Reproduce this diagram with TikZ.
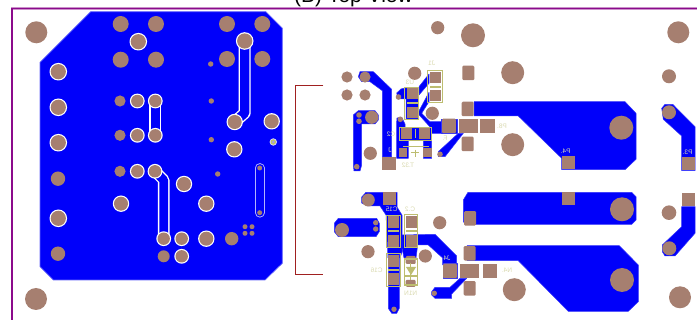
\documentclass[tikz,border=0pt]{standalone}
\usepackage{fontspec}
\setmainfont{Liberation Sans}
\usepackage{graphicx}
\definecolor{pcbblue}{HTML}{0000FA}
\definecolor{padbrown}{HTML}{A67F70}
\definecolor{silk}{HTML}{BDBD70}
\definecolor{silktext}{HTML}{DADAB0}
\definecolor{framepurple}{HTML}{8B0A8B}
\definecolor{bracketred}{HTML}{A02020}
\tikzset{
  copper/.style={fill=pcbblue,draw=pcbblue!80!white,line width=.5pt,line join=round},
  padfill/.style={fill=padbrown},
  silkbox/.style={draw=silk,line width=.8pt},
  silkbar/.style={draw=silk,line width=1.5pt},
  silklabel/.style={text=silktext,font=\fontsize{6.5}{6.5}\selectfont,inner sep=0pt}
}
\newcommand\cpad[3]{\fill[padfill] (#1,#2) circle (#3pt);}
\newcommand\rpad[3]{\fill[white] (#1,#2) circle [radius={#3+1.2}];\fill[padfill] (#1,#2) circle (#3pt);}
\newcommand\spad[4]{\fill[padfill,rounded corners=1.2pt] ({#1-#3/2},{#2-#4/2}) rectangle ({#1+#3/2},{#2+#4/2});}
\newcommand\qpad[4]{\fill[padfill] ({#1-#3/2},{#2-#4/2}) rectangle ({#1+#3/2},{#2+#4/2});}
\newcommand\mirrortext[3]{\node[silklabel] at (#1,#2) {\reflectbox{#3}};}
\begin{document}
\begin{tikzpicture}[x=1pt,y=-1pt]
\clip (0,0) rectangle (697,320);
\fill[white] (0,0) rectangle (697,320);
% title, cut by the top edge
\node[anchor=base,inner sep=0pt,font=\fontsize{21}{21}\selectfont] (title) at (353.5,2.5) {(B) Top View};
% frame
\draw[framepurple!45!white,line width=2.2pt] (12,320) -- (12,8.5) -- (697,8.5);
\draw[framepurple,line width=1.2pt] (12,320) -- (12,8.5) -- (697,8.5);
% bracket
\draw[bracketred,line width=.9pt] (323.3,85) -- (295.7,85) -- (295.7,274.3) -- (323.3,274.3);
% mounting holes
\cpad{36.3}{32.3}{11}\cpad{36}{299}{11}
% left board
\fill[pcbblue,draw=pcbblue!60!white,line width=.7pt] (90.7,11.7) -- (265.7,11.7) -- (282.3,28.3) -- (282.3,263.3) -- (265,280) -- (53.3,280) -- (40,266.7) -- (40,62.3) -- cycle;
% outlined tracks on board
\draw[white,line width=12pt,line join=round] (155.3,101) -- (155.3,135.5);
\draw[pcbblue,line width=9pt,line join=round] (155.3,101) -- (155.3,135.5);
\draw[white,line width=11.6pt,line join=round] (155,171.3) -- (163.7,180) -- (163.7,238.7);
\draw[pcbblue,line width=8.8pt,line join=round] (155,171.3) -- (163.7,180) -- (163.7,238.7);
\draw[white,line width=12pt,line join=round] (244.7,41) -- (244.7,113) -- (234.7,122);
\draw[pcbblue,line width=9.3pt,line join=round] (244.7,41) -- (244.7,113) -- (234.7,122);
\draw[white!70!pcbblue,line width=9.8pt,line cap=round] (259.7,168) -- (259.7,212.7);
\draw[pcbblue,line width=7.8pt,line cap=round] (259.7,168) -- (259.7,212.7);
\foreach \x/\y in {120.7/24,156/24,227/24,262.3/24,120.7/59.7,156/59.7,227/59,262.3/59}{\cpad{\x}{\y}{8}}
\foreach \x/\y in {138.3/41.7,244.7/41,58.3/71.7,58.3/107.3,58.3/142.7,58.3/218.3}{\rpad{\x}{\y}{7.6}}
\foreach \x/\y in {58/178.7,58/253.7}{\cpad{\x}{\y}{7.2}}
\foreach \x/\y in {120/101,120/135.3,120/171.3}{\cpad{\x}{\y}{5.6}}
\foreach \x/\y in {137.3/101,155.3/101,137.3/135.3,155.3/135.3,137.3/171.3,155/171.3}{\rpad{\x}{\y}{6.2}}
\foreach \x/\y in {184/184,121/203.7,206.3/203.7,206.3/238.7,234.7/122,271.7/121.3,234.3/149.3}{\rpad{\x}{\y}{7}}
\foreach \x/\y in {163.7/238.7,181.7/238.7,181.7/256.3}{\rpad{\x}{\y}{6.2}}
\cpad{163.7}{256.3}{6}\cpad{231.7}{238.7}{6.7}
\foreach \x/\y in {210.7/64,211.3/101,211.3/139.7,217.7/174}{\cpad{\x}{\y}{2.7}}
\foreach \x/\y in {259.7/168,259.7/212.7,245/226.7,252/226.7,245/233.3,252/233.3}{\cpad{\x}{\y}{2.5}}
\fill[white!85!pcbblue] (273.3,142) circle (3.7pt);
\fill[silk] (273.3,142) circle (2.8pt);
\fill[pcbblue!40!white] (273.3,142) circle (1.2pt);
% upper circuit: copper
\fill[copper] (360,71.7) -- (373.3,71.7) -- (391.7,89.3) -- (391.7,157) -- (382.3,157) -- (382.3,90.7) -- (370,81.7) -- (361.7,81.7) -- (358.3,76.7) -- cycle;
\fill[copper] (353.3,115) -- (358.3,110.7) -- (375,110.7) -- (378.3,115) -- (378.3,120) -- (375,124) -- (361.7,124) -- (361.7,165) -- (360,171) -- (354,171) -- (353.3,165) -- cycle;
\fill[copper] (396.7,93) -- (401,89) -- (405,88) -- (418.7,88) -- (418.7,119) -- (406,119) -- (406,99) -- (398,99) -- cycle;
\fill[copper] (419,86.7) -- (429,74) -- (429,83.3) -- (419,95) -- cycle;
\fill[copper] (396.7,121.7) -- (397,118) -- (402,118) -- (405,124) -- (405,128) -- (428,128) -- (430,127) -- (417.7,113.3) -- (429,92.3) -- (429,101.7) -- (421.7,113.3) -- (430,121.7) -- (443,121.7) -- (443,133.3) -- (431.7,133.3) -- (431.7,158.3) -- (423.3,158.3) -- (423.3,140.7) -- (408.3,140.7) -- (408.3,158.3) -- (396.7,158.3) -- cycle;
\fill[copper] (463.3,133.3) -- (458.3,133.3) -- (438.3,151.7) -- (438.3,156.7) -- (445,156.7) -- cycle;
\fill[copper] (441,119.5) rectangle (457,133);
\fill[copper] (474,101.7) -- (625,101.7) -- (636,113.3) -- (636,159.3) -- (625,169.7) -- (561.7,169.7) -- (561.7,158.3) -- (518.3,116) -- (474,116) -- cycle;
\fill[copper] (661.7,108.3) -- (665,104.3) -- (672.7,104.3) -- (695,126.7) -- (695,170.7) -- (681.7,170.7) -- (681.7,136) -- (663.3,119.3) -- cycle;
% lower circuit: copper
\fill[copper] (361.7,197) -- (366,192.3) -- (397,192.3) -- (397,207) -- (402,215) -- (402,252) -- (400,258) -- (388,258) -- (386,215) -- (380,206) -- (368,206) -- (361.7,203) -- cycle;
\fill[copper] (388.3,254) -- (399.3,254) -- (399.3,308.3) -- (396.7,313.3) -- (391.7,313.3) -- (388.3,308.3) -- cycle;
\fill[copper] (334.3,223.3) -- (338.3,218.3) -- (376.7,218.3) -- (379.3,223.3) -- (379.3,231.7) -- (376,236.7) -- (338.3,236.7) -- (334.3,231.7) -- cycle;
\fill[copper] (402,235) -- (435,234.3) -- (456.7,256) -- (456.7,265) -- (442.7,265) -- (442.7,258) -- (428.3,245) -- (417.7,245) -- (416,258) -- (404,258) -- (402,248) -- cycle;
\fill[copper] (443,263) rectangle (457,278);
\fill[copper] (431.7,291.7) -- (435,287.3) -- (450,287.3) -- (460,278.3) -- (466.7,278.3) -- (451.7,294) -- (451.7,298.3) -- (435,298.3) -- (431.7,295) -- cycle;
\fill[copper] (468,192.3) -- (631.7,192.3) -- (636,196.7) -- (636,220) -- (631.7,224.3) -- (470,224.3) -- (463.3,222) -- (463.3,200) -- cycle;
\fill[copper] (467,245.7) -- (619.3,245.7) -- (638.3,265) -- (638.3,301.7) -- (628.3,311.3) -- (568.3,311.3) -- (518.3,260.7) -- (467,260.7) -- cycle;
\fill[copper] (681.7,206.7) -- (695,206.7) -- (695,233.3) -- (675,256) -- (665,256) -- (662.3,251.7) -- (662.3,245) -- (681.7,226.7) -- cycle;
% upper circuit: pads
\foreach \x/\y in {347/77,365/77,347/95,365/95}{\cpad{\x}{\y}{5.6}}
\foreach \x/\y in {359/115,359/121.3,356.7/166.7,400.3/119.3,440/154.3}{\cpad{\x}{\y}{2.8}}
\cpad{398.5}{97}{2.8}
\foreach \x/\y in {371.7/117.3,370.3/153.3,414.7/73.3,432.3/113.3,437.7/27.7}{\cpad{\x}{\y}{6.6}}
\cpad{473}{35.3}{12}\cpad{512.7}{72.7}{11.5}\cpad{512.7}{144.7}{11.5}\cpad{621.3}{127.7}{12}
\cpad{678.3}{32.3}{11}\cpad{669}{76.3}{7}\cpad{669}{112.3}{7}
\qpad{389}{163.4}{13.4}{13.4}
\foreach \x/\y in {412.3/93.7,412.3/112.3,435/77.7,435/95.7,406.7/134,424.3/134}{\qpad{\x}{\y}{11}{11}}
\qpad{403}{153}{8.5}{9}\qpad{427.7}{153}{8.5}{9}
\spad{449}{126}{14}{14.5}\qpad{468.7}{126}{19}{14.5}\qpad{487.3}{126}{14.5}{14.5}
\spad{468.3}{73}{12}{14.5}\spad{467.7}{109}{12}{14.5}\spad{467.7}{144}{12}{14.5}
\qpad{568}{163}{13}{13}\qpad{688.3}{164}{13.3}{13}
% lower circuit: pads
\qpad{389.3}{198.3}{13}{13.4}
\cpad{368.3}{200}{6.5}\cpad{342}{230}{7}\cpad{368}{251.7}{6.6}\cpad{439.7}{222.7}{6.6}\cpad{425.3}{256}{6.6}
\foreach \x/\y in {375.7/222.7,375.7/229,394/309.3,434.3/293.3}{\cpad{\x}{\y}{2.7}}
\foreach \x/\y in {393.3/222.3,393.3/241,411/222.3,411/241,393.3/261,393.3/279.3}{\qpad{\x}{\y}{11}{12}}
\spad{410.7}{260}{10}{8}\spad{410.7}{283.3}{10}{7}
\spad{450}{271}{14}{14.5}\qpad{469.7}{271}{19.5}{14.5}\qpad{490}{271}{14.5}{14.5}
\spad{470}{218.3}{12}{14.5}\spad{469.7}{253.3}{12}{14.5}\spad{469.7}{288.3}{12}{14.5}
\qpad{568}{198.7}{13}{13}\qpad{688.3}{200}{13.3}{13}
\cpad{622}{209.3}{12}\cpad{622}{280}{12}\cpad{514.3}{289.7}{11.5}
\cpad{669}{212.7}{7.3}\cpad{669.3}{248.3}{7}\cpad{680}{297.3}{11}
% silk upper
\draw[silkbox] (404.3,87.3) rectangle (418.7,119);
\draw[silkbox] (427.7,70.7) rectangle (442.3,102.7);
\draw[silkbox] (399.3,127.3) rectangle (431.7,140.7);
\draw[silkbar] (407,103) -- (418,103);
\draw[silkbar] (430,87) -- (441,87);
\draw[silkbar] (415.7,129) -- (415.7,138);
\draw[silkbar] (403,146.7) -- (429,146.7);
\draw[silkbar,line width=1pt] (415,150) -- (415,157) (411,153) -- (419,153);
% silk lower
\draw[silkbox] (386.7,215) rectangle (400,247.3);
\draw[silkbox] (404.3,214.3) rectangle (417.7,247.3);
\draw[silkbox] (386.7,253.3) rectangle (400,286.7);
\draw[silkbar] (388,231) -- (399,231);
\draw[silkbar] (406,231) -- (417,231);
\draw[silkbar] (388,270) -- (399,270);
\draw[silkbox,line width=1.2pt] (404.3,259) rectangle (417.7,285);
\fill[silk] (406,267) -- (416,267) -- (411,275) -- cycle;
\draw[silkbar] (405,276) -- (417,276);
\draw[silkbar,line width=1pt] (410.7,263) -- (410.7,280);
% mirrored silk labels
\mirrortext{431.7}{63}{J1}
\mirrortext{410}{82.7}{U3}
\mirrortext{391}{134.3}{C2}
\mirrortext{390}{150}{J}
\mirrortext{408}{165}{T.32}
\mirrortext{502}{126.5}{P8.}
\mirrortext{445}{138.5}{F.}
\mirrortext{565.7}{151.7}{P4.}
\mirrortext{687.7}{152.5}{P3.}
\mirrortext{391.7}{209.3}{C15}
\mirrortext{410}{209.3}{C.2}
\mirrortext{376.7}{270}{C16}
\mirrortext{410.7}{293.3}{N1N}
\mirrortext{447}{258.3}{J4}
\mirrortext{507}{270}{N4.}
\end{tikzpicture}
\end{document}
